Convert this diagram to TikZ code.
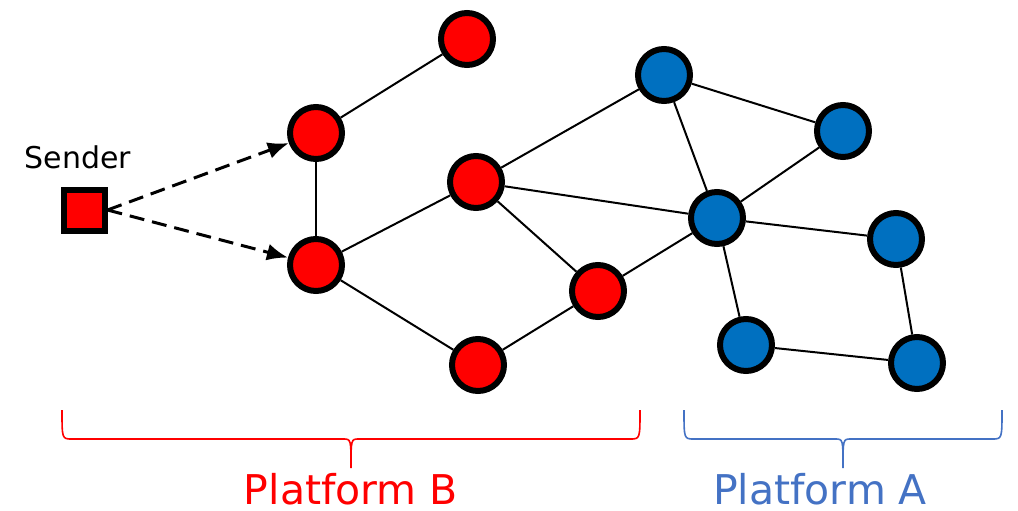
\documentclass[tikz,border=0pt]{standalone}
\usepackage{fontspec}
\setmainfont{DejaVu Sans}
\definecolor{rojo}{HTML}{FF0000}
\definecolor{azul}{HTML}{0070C0}
\definecolor{azulclaro}{HTML}{4472C4}
\usetikzlibrary{positioning,arrows.meta}

\begin{document}
\begin{tikzpicture}[
  x=1pt, y=-1pt,
  font=\fontsize{30}{36}\selectfont,
  nodo/.style={circle, draw=black, line width=6pt, minimum size=52pt, inner sep=0pt},
  nodorojo/.style={nodo, fill=rojo},
  nodoazul/.style={nodo, fill=azul},
  emisor/.style={rectangle, draw=black, line width=6pt, fill=rojo, minimum size=41pt, inner sep=0pt},
  enlace/.style={draw=black, line width=2pt},
  flecha/.style={-{Latex[length=21pt, width=17pt]}, draw=black, line width=3pt, dash pattern=on 15pt off 8pt},
  llave/.style={line width=1.6pt},
  plataforma/.style={font=\fontsize{41}{49}\selectfont, inner sep=0pt, anchor=base}
]
\useasboundingbox (0,0) rectangle (1018,511);
% red platform
\node[nodorojo] (r1) at (467,39) {};
\node[nodorojo] (r2) at (316,133) {};
\node[nodorojo] (r3) at (316,265) {};
\node[nodorojo] (r4) at (476,182) {};
\node[nodorojo] (r5) at (598,291) {};
\node[nodorojo] (r6) at (478,365) {};
% blue platform
\node[nodoazul] (a1) at (664,75) {};
\node[nodoazul] (a2) at (843,131) {};
\node[nodoazul] (a3) at (717,218) {};
\node[nodoazul] (a4) at (896,239) {};
\node[nodoazul] (a5) at (746,345) {};
\node[nodoazul] (a6) at (917,363) {};
% sender
\node[emisor] (s) at (84,210) {};
\node (ts) at (78,157) {Sender};
\draw[enlace] (r1) -- (r2);
\draw[enlace] (r2) -- (r3);
\draw[enlace] (r3) -- (r4);
\draw[enlace] (r3) -- (r6);
\draw[enlace] (r4) -- (r5);
\draw[enlace] (r5) -- (r6);
\draw[enlace] (r4) -- (a1);
\draw[enlace] (r4) -- (a3);
\draw[enlace] (r5) -- (a3);
\draw[enlace] (a1) -- (a2);
\draw[enlace] (a1) -- (a3);
\draw[enlace] (a2) -- (a3);
\draw[enlace] (a3) -- (a4);
\draw[enlace] (a3) -- (a5);
\draw[enlace] (a5) -- (a6);
\draw[enlace] (a4) -- (a6);
\draw[flecha] (s.east) -- (r2);
\draw[flecha] (s.east) -- (r3);
% braces
\draw[llave, draw=rojo] (62,410) .. controls (62,439) .. (72,439) -- (343,439)
  .. controls (351,439) .. (351,468) .. controls (351,439) .. (359,439) -- (630,439)
  .. controls (640,439) .. (640,410);
\draw[llave, draw=azulclaro] (684,410) .. controls (684,439) .. (694,439) -- (835,439)
  .. controls (843,439) .. (843,468) .. controls (843,439) .. (851,439) -- (992,439)
  .. controls (1002,439) .. (1002,410);
\node[plataforma, text=rojo] (pb) at (351,504) {Platform B};
\node[plataforma, text=azulclaro] (pa) at (820,504) {Platform A};
\end{tikzpicture}
\end{document}
